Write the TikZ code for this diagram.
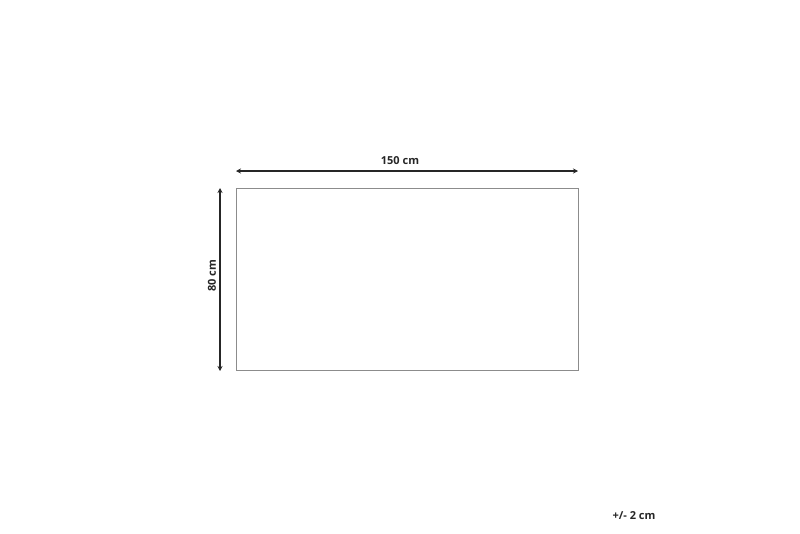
\documentclass[tikz,border=0pt]{standalone}
\usepackage{fontspec}
\setmainfont{Open Sans}
\usetikzlibrary{arrows.meta}
\begin{document}
\begin{tikzpicture}[x=1pt,y=-1pt,
  dim/.style={line width=1.3pt, black!85, {Stealth[length=5pt,width=5pt]}-{Stealth[length=5pt,width=5pt]}},
  lbl/.style={font=\bfseries\fontsize{11}{13}\selectfont, text=black!85, inner sep=1pt}]
\useasboundingbox (0,0) rectangle (800,533);
\draw[draw=black!45, line width=0.9pt] (236,188) rectangle (578,370);
\coordinate (hl) at (236,171);
\coordinate (hr) at (578,171);
\coordinate (vt) at (220,188);
\coordinate (vb) at (220,371);
\draw[dim] (hl) -- (hr);
\draw[dim] (vt) -- (vb);
\node[lbl] (w) at (400,161) {150 cm};
\node[lbl, rotate=90] (h) at (212,276) {80 cm};
\node[lbl] (tol) at (634,516) {+/- 2 cm};
\end{tikzpicture}
\end{document}
